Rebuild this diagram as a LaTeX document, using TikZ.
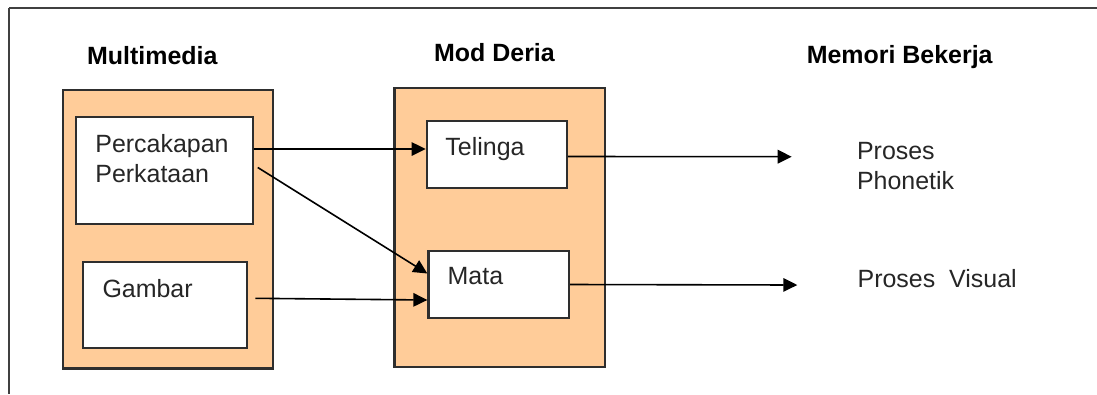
\documentclass[tikz,border=0pt]{standalone}
\usepackage{fontspec}
\setmainfont{Liberation Sans}
\usetikzlibrary{arrows.meta,positioning}
\definecolor{peach}{HTML}{FFCC99}
\definecolor{edge}{HTML}{2E2E2E}
\tikzset{
    panel/.style={
        draw=edge,
        line width=0.45mm,
        fill=peach,
        minimum width=42.1mm,
        minimum height=55.7mm
    },
    box/.style={
        draw=edge,
        line width=0.45mm,
        fill=white
    },
    boxtext/.style={
        anchor=north west,
        inner sep=0pt,
        align=left,
        text=black!85,
        font=\fontsize{14.2}{17.4}\selectfont
    },
    heading/.style={
        anchor=base,
        inner sep=0pt,
        font=\fontsize{14.2}{17.4}\selectfont\bfseries
    },
    link/.style={
        -{Triangle[length=2.8mm,width=2.7mm]},
        line width=0.32mm
    },
    frame/.style={
        line width=0.45mm,
        draw=black!75
    }
}

\begin{document}
\begin{tikzpicture}[x=0.2mm,y=-0.2mm]
  \useasboundingbox (0,0) rectangle (1097,394);
  \draw[frame] (1097,8.3) -- (9,8.3);
  \draw[frame] (9,8.3) -- (9,394);

  \node[heading] (H1) at (152.3,64) {Multimedia};
  \node[heading] (H2) at (494.5,61) {Mod Deria};
  \node[heading] (H3) at (899.7,63.3) {Memori Bekerja};

  % multimedia
  \node[panel] (MM) at (168,229.2) {};
  \node[box, minimum width=35.3mm, minimum height=21.5mm] (PC) at (164.4,170.5) {};
  \node[box, minimum width=32.8mm, minimum height=17.2mm] (GB) at (165.3,305.3) {};
  \node[boxtext] (PCt) at ([shift={(20,18)}]PC.north west) {Percakapan\\Perkataan};
  \node[boxtext] (GBt) at ([shift={(20,18)}]GB.north west) {Gambar};

  % mod deria
  \node[panel] (MD) at (499.7,227.5) {};
  \node[box, minimum width=28mm, minimum height=13.5mm] (TL) at (496.7,154.5) {};
  \node[box, minimum width=28.1mm, minimum height=13.5mm] (MT) at (498.7,284.5) {};
  \node[boxtext] (TLt) at ([shift={(19.5,17.6)}]TL.north west) {Telinga};
  \node[boxtext] (MTt) at ([shift={(20,17.6)}]MT.north west) {Mata};

  % memori bekerja
  \node[boxtext] (PF) at (856.7,141.7) {Proses\\Phonetik};
  \node[boxtext] (PV) at (857.3,269.3) {Proses\ \ Visual};
  \coordinate (PFin) at (791.7,156.7);
  \coordinate (PVin) at (797.3,285);

  \draw[link] ([yshift=4.3mm]PC.east) -- ([yshift=1.1mm]TL.west);
  \draw[link] ([shift={(4,-3)}]PC.east) -- ([yshift=2.2mm]MT.west);
  \draw[link] ([shift={(7,-7)}]GB.east) -- ([yshift=-3.1mm]MT.west);
  \draw[link] ([yshift=-0.4mm]TL.east) -- (PFin);
  \draw[link] (MT.east) -- (PVin);

\end{tikzpicture}
\end{document}
